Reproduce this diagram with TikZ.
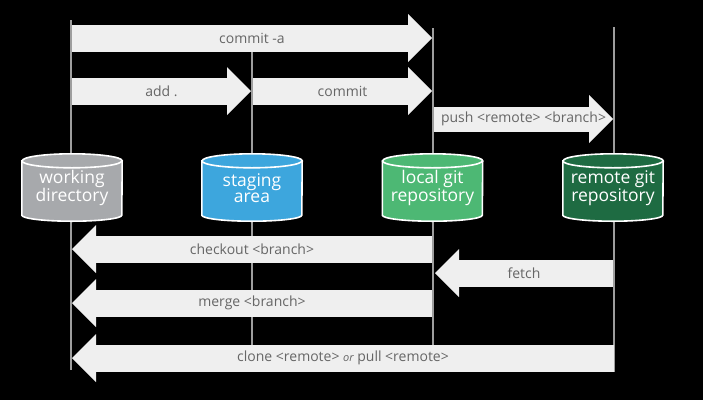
\documentclass[tikz,border=0pt]{standalone}
\usepackage{fontspec}
\setmainfont{Open Sans}
\usetikzlibrary{arrows.meta,backgrounds}
\definecolor{bgblack}{HTML}{000000}
\definecolor{lifegray}{HTML}{9E9E9E}
\definecolor{arrowfill}{HTML}{EFEFEF}
\definecolor{labelgray}{HTML}{666666}
\definecolor{wdgray}{HTML}{A7A9AC}
\definecolor{stblue}{HTML}{3DA6DD}
\definecolor{lcgreen}{HTML}{4DB874}
\definecolor{rmgreen}{HTML}{1E6B42}
\newcommand\drawgitcyl[2]{%
  \filldraw[cylline, fill=#2] (#1.north west) -- (#1.south west)
    arc[start angle=180,end angle=360,x radius=50pt,y radius=6pt]
    -- (#1.north east)
    arc[start angle=0,end angle=180,x radius=50pt,y radius=7pt] -- cycle;
  \draw[cylline] (#1.north west) arc[start angle=180,end angle=360,x radius=50pt,y radius=7pt];
}
\begin{document}
\begin{tikzpicture}[x=1pt,y=-1pt,
  lifeline/.style={draw=lifegray, line width=2pt},
  cylline/.style={draw=white, line width=1.6pt},
  cylbox/.style={minimum width=100pt, minimum height=54pt, inner sep=0pt, align=center,
    text=white, font=\fontsize{17.5}{16.5}\selectfont},
  fat/.style={draw=arrowfill, line width=27pt,
    -{Triangle[length=24pt,width=48pt,line width=0pt]}},
  lbl/.style={text=labelgray, font=\fontsize{14}{16}\selectfont, inner sep=0pt}]
\useasboundingbox (0,0) rectangle (703,400);
% coordinates of the lifelines
\coordinate (wT) at (71,20);  \coordinate (wB) at (71,370);
\coordinate (sT) at (252,51); \coordinate (sB) at (252,345);
\coordinate (lT) at (433,28); \coordinate (lB) at (433,345);
\coordinate (rT) at (614,27); \coordinate (rB) at (614,372);
% cylinder nodes (text)
\node[cylbox] (wd) at (72,188)  {working\\directory};
\node[cylbox] (st) at (252,188) {staging\\area};
\node[cylbox] (lc) at (432.5,188) {local git\\repository};
\node[cylbox] (rm) at (613,188) {remote git\\repository};
\begin{scope}[on background layer]
  \fill[bgblack] (0,0) rectangle (703,400);
  \draw[lifeline] (wT) -- (wB);
  \draw[lifeline] (sT) -- (sB);
  \draw[lifeline] (lT) -- (lB);
  \draw[lifeline] (rT) -- (rB);
  \drawgitcyl{wd}{wdgray}
  \drawgitcyl{st}{stblue}
  \drawgitcyl{lc}{lcgreen}
  \drawgitcyl{rm}{rmgreen}
\end{scope}
% arrow end points
\coordinate (ca-s) at (72,38);   \coordinate (ca-e) at (432,38);
\coordinate (ad-s) at (72,91);   \coordinate (ad-e) at (251,91);
\coordinate (cm-s) at (253,91);  \coordinate (cm-e) at (432,91);
\coordinate (pu-s) at (434,119); \coordinate (pu-e) at (613,119);
\coordinate (co-s) at (432,249); \coordinate (co-e) at (72,249);
\coordinate (fe-s) at (613,273); \coordinate (fe-e) at (435,273);
\coordinate (me-s) at (432,303); \coordinate (me-e) at (72,303);
\coordinate (cl-s) at (614,358); \coordinate (cl-e) at (72,358);
% arrows
\draw[fat] (ca-s) -- node[lbl] (t-ca) {commit -a} (ca-e);
\draw[fat] (ad-s) -- node[lbl] (t-ad) {add .} (ad-e);
\draw[fat] (cm-s) -- node[lbl] (t-cm) {commit} (cm-e);
\draw[fat, line width=25pt] (pu-s) -- node[lbl] (t-pu) {push <remote> <branch>} (pu-e);
\draw[fat] (co-s) -- node[lbl] (t-co) {checkout <branch>} (co-e);
\draw[fat] (fe-s) -- node[lbl] (t-fe) {fetch} (fe-e);
\draw[fat] (me-s) -- node[lbl] (t-me) {merge <branch>} (me-e);
\draw[fat] (cl-s) -- node[lbl] (t-cl) {clone <remote> {\fontsize{11}{12}\selectfont\itshape or} pull <remote>} (cl-e);
\end{tikzpicture}
\end{document}
